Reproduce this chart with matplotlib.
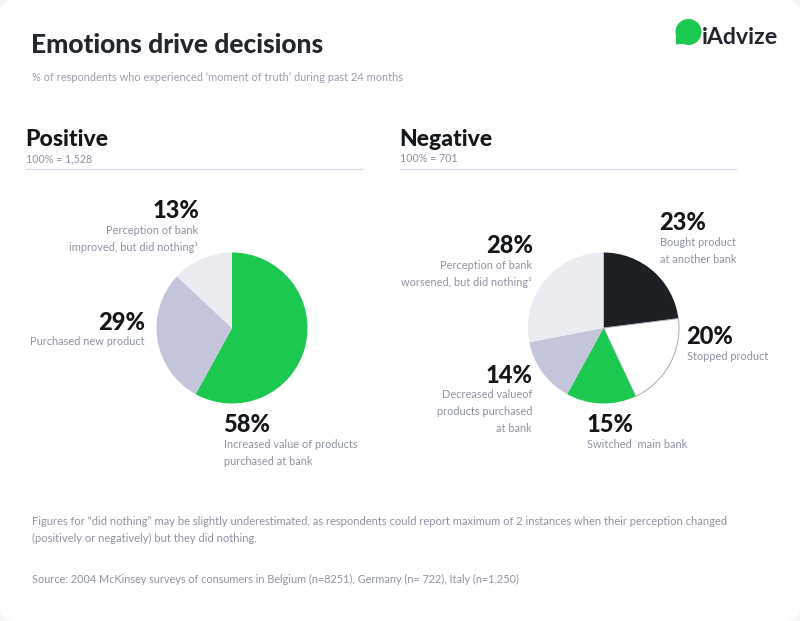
import matplotlib
matplotlib.use("Agg")
import matplotlib.pyplot as plt
from matplotlib.patches import Circle, FancyBboxPatch, Polygon

plt.rcParams['font.family'] = ['Lato', 'DejaVu Sans']

# data
pos_values = [58, 29, 13]
pos_colors = ['#1cc84f', '#c3c6da', '#ebecf2']
neg_values = [23, 20, 15, 14, 28]
neg_colors = ['#1c2024', '#ffffff', '#1cc84f', '#c3c6da', '#ebecf2']

title = 'Emotions drive decisions'
subtitle = '% of respondents who experienced ‘moment of truth’ during past 24 months'
note = ['Figures for “did nothing” may be slightly underestimated, as respondents could report maximum of 2 instances when their perception changed',
        '(positively or negatively) but they did nothing.']
source = 'Source: 2004 McKinsey surveys of consumers in Belgium (n=8251), Germany (n= 722), Italy (n=1,250)'

DARK = '#14171a'
GREY = '#8f92a3'
W, H = 800, 621

fig = plt.figure(figsize=(W / 100, H / 100), dpi=100, facecolor='#f6f6f8')

# whole figure overlay in pixel coords
bg = fig.add_axes([0, 0, 1, 1])
bg.set_xlim(0, W)
bg.set_ylim(H, 0)
bg.axis('off')
bg.add_patch(FancyBboxPatch((8, 8), W - 16, H - 16, boxstyle='round,pad=8,rounding_size=14',
                            fc='white', ec='none'))


def txt(x, y, s, size=8, color=GREY, ha='left', weight='normal', **kw):
    bg.text(x, y, s, fontsize=size, color=color, ha=ha, va='baseline', fontweight=weight, **kw)


def pie(cx, cy, r, values, colors, edges=None):
    ax = fig.add_axes([(cx - r) / W, 1 - (cy + r) / H, 2 * r / W, 2 * r / H])
    wedges, _ = ax.pie(values, colors=colors, startangle=90, counterclock=False, radius=1)
    ax.set_xlim(-1, 1)
    ax.set_ylim(-1, 1)
    ax.axis('off')
    for w in wedges:
        w.set_clip_on(False)
    if edges is not None:
        wedges[edges].set_edgecolor('#a9abb5')
        wedges[edges].set_linewidth(0.7)


# header
txt(31, 53, title, size=19, color='#23282e', weight='black')
txt(32, 81, subtitle, size=7.95, color='#9a9dae')

# logo
bg.add_patch(Circle((688.5, 32), 13, fc='#1cc84f', ec='none'))
bg.add_patch(Polygon([[676, 36], [676, 44.5], [686, 43.5]], closed=True, fc='#1cc84f', ec='none'))
txt(702, 44, 'iAdvize', size=16.7, color='#22272d', weight='bold')

# section headers
for x, head, total in [(25.5, 'Positive', '100% = 1,528'), (399.5, 'Negative', '100% = 701')]:
    txt(x, 146, head, size=16.6, color=DARK, weight='black')
    txt(x + 0.5, 162, total, size=7.7)
    bg.plot([x + 0.5, x + 336.5], [168.5, 168.5], color='#dcdde8', lw=0.9)

# pies
pie(232, 328, 75.5, pos_values, pos_colors)
pie(603.5, 328, 75.5, neg_values, neg_colors, edges=1)

BIG = 17
LBL = 7.95

# positive labels
txt(199, 218, '13%', size=BIG, color=DARK, ha='right', weight='black')
txt(198, 234, 'Perception of bank', size=LBL, ha='right')
txt(198, 251, 'improved, but did nothing¹', size=LBL, ha='right')
txt(145, 330, '29%', size=BIG, color=DARK, ha='right', weight='black')
txt(145, 345, 'Purchased new product', size=LBL, ha='right')
txt(223.5, 432, '58%', size=BIG, color=DARK, weight='black')
txt(224, 448, 'Increased value of products', size=LBL)
txt(224, 465, 'purchased at bank', size=LBL)

# negative labels
txt(659.5, 230, '23%', size=BIG, color=DARK, weight='black')
txt(660, 246, 'Bought product', size=LBL)
txt(660, 263, 'at another bank', size=LBL)
txt(533, 253, '28%', size=BIG, color=DARK, ha='right', weight='black')
txt(532, 269, 'Perception of bank', size=LBL, ha='right')
txt(532, 286, 'worsened, but did nothing¹', size=LBL, ha='right')
txt(686.5, 344, '20%', size=BIG, color=DARK, weight='black')
txt(687, 360, 'Stopped product', size=LBL)
txt(533, 383, '14%', size=BIG, color=DARK, ha='right', weight='black')
txt(532, 398, 'Decreased valueof', size=LBL, ha='right')
txt(532, 415, 'products purchased', size=LBL, ha='right')
txt(532, 432, 'at bank', size=LBL, ha='right')
txt(586.5, 432, '15%', size=BIG, color=DARK, weight='black')
txt(587, 448, 'Switched  main bank', size=LBL)

# footnotes
txt(32, 525, note[0], size=7.98)
txt(32, 542, note[1], size=7.98)
txt(32, 583, source, size=7.83)

fig.savefig('out.png', dpi=100, facecolor=fig.get_facecolor())
